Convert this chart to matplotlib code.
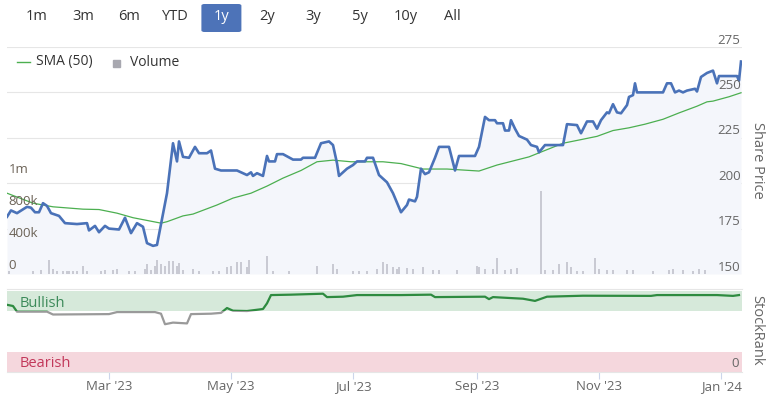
import numpy as np
import pandas as pd
import matplotlib
matplotlib.use('Agg')
import matplotlib.pyplot as plt
from matplotlib.patches import Rectangle, FancyBboxPatch
from matplotlib.lines import Line2D
from matplotlib.transforms import blended_transform_factory

plt.rcParams['font.family'] = ['Open Sans', 'DejaVu Sans']

# --- данные ---
price_dates = [
    "2023-01-09", "2023-01-11", "2023-01-14", "2023-01-19", "2023-01-21", "2023-01-23", "2023-01-25",
    "2023-01-27", "2023-01-29", "2023-01-31", "2023-02-04", "2023-02-07", "2023-02-13", "2023-02-18",
    "2023-02-19", "2023-02-22", "2023-02-24", "2023-02-27", "2023-03-01", "2023-03-06", "2023-03-09",
    "2023-03-12", "2023-03-15", "2023-03-18", "2023-03-20", "2023-03-23", "2023-03-25", "2023-03-30",
    "2023-04-02", "2023-04-04", "2023-04-05", "2023-04-07", "2023-04-10", "2023-04-13", "2023-04-15",
    "2023-04-19", "2023-04-21", "2023-04-23", "2023-04-26", "2023-05-04", "2023-05-09", "2023-05-11",
    "2023-05-12", "2023-05-14", "2023-05-17", "2023-05-19", "2023-05-20", "2023-05-23", "2023-05-24",
    "2023-05-27", "2023-06-01", "2023-06-05", "2023-06-06", "2023-06-12", "2023-06-15", "2023-06-19",
    "2023-06-21", "2023-06-23", "2023-06-24", "2023-06-28", "2023-07-01", "2023-07-03", "2023-07-07",
    "2023-07-08", "2023-07-11", "2023-07-14", "2023-07-18", "2023-07-21", "2023-07-25", "2023-07-28",
    "2023-07-29", "2023-08-01", "2023-08-02", "2023-08-04", "2023-08-06", "2023-08-08", "2023-08-11",
    "2023-08-13", "2023-08-18", "2023-08-21", "2023-08-23", "2023-08-31", "2023-09-02", "2023-09-05",
    "2023-09-07", "2023-09-10", "2023-09-11", "2023-09-14", "2023-09-15", "2023-09-17", "2023-09-18",
    "2023-09-20", "2023-09-22", "2023-09-26", "2023-09-28", "2023-10-01", "2023-10-02", "2023-10-05",
    "2023-10-14", "2023-10-16", "2023-10-21", "2023-10-23", "2023-10-26", "2023-10-29", "2023-10-31",
    "2023-11-02", "2023-11-05", "2023-11-06", "2023-11-08", "2023-11-10", "2023-11-12", "2023-11-15",
    "2023-11-16", "2023-11-18", "2023-11-19", "2023-11-20", "2023-12-03", "2023-12-05", "2023-12-07",
    "2023-12-09", "2023-12-11", "2023-12-13", "2023-12-15", "2023-12-19", "2023-12-20", "2023-12-22",
    "2023-12-25", "2023-12-28", "2023-12-30", "2023-12-31", "2024-01-09", "2024-01-10", "2024-01-11",
]
price_values = [
    181.5, 185, 183.5, 187, 186.5, 184, 184,
    189, 187.5, 183.5, 182, 178, 177.5, 178,
    174, 176.5, 173, 176.5, 175, 174.5, 181,
    172.5, 178, 176, 167, 165.5, 166, 194.5,
    222, 212, 223, 214.5, 214, 220, 216.5,
    216.5, 218, 208, 207, 207, 204.5, 206,
    204, 205.5, 204, 215, 212, 212, 216,
    216, 213, 213, 214, 214, 222, 223,
    221, 211, 204, 208, 210, 212, 212,
    214, 214, 204.5, 200.5, 194.5, 184, 188,
    191, 190, 192.5, 208, 205, 206, 214,
    220, 220, 207, 215, 215, 220, 236.5,
    234.7, 234.7, 233, 233, 229, 229, 234.7,
    230, 226, 224, 221, 220, 217, 221,
    221, 232.5, 232, 227.5, 234, 234, 230,
    234.7, 239, 238.5, 243.5, 239, 238.5, 243,
    247.5, 248.5, 255, 250, 250, 255, 255,
    250, 251, 250, 251, 252, 250.5, 258.5,
    260.7, 262, 255, 259, 259, 256.5, 267,
]

sma_dates = [
    "2023-01-09", "2023-01-22", "2023-02-01", "2023-02-16", "2023-02-24", "2023-03-05", "2023-03-13",
    "2023-03-27", "2023-03-30", "2023-04-07", "2023-04-12", "2023-04-24", "2023-05-02", "2023-05-11",
    "2023-05-19", "2023-05-27", "2023-06-05", "2023-06-13", "2023-06-21", "2023-06-30", "2023-07-08",
    "2023-07-16", "2023-07-25", "2023-08-05", "2023-08-17", "2023-09-02", "2023-09-11", "2023-09-27",
    "2023-10-14", "2023-10-23", "2023-10-31", "2023-11-08", "2023-11-16", "2023-11-24", "2023-12-03",
    "2023-12-11", "2023-12-20", "2023-12-25", "2023-12-28", "2024-01-05", "2024-01-11",
]
sma_values = [
    194.5, 189, 187, 185.7, 185.5, 183.5, 181,
    178, 178.8, 182, 183, 188, 191.8, 194.5,
    198.4, 202.8, 207, 211.8, 212.7, 211.8, 211.8,
    211.8, 210.8, 207.8, 207.8, 206.7, 210, 214.5,
    222, 224, 225.8, 229, 230.5, 232.5, 235.2,
    238.7, 242.4, 244.8, 245.2, 247.6, 249.8,
]

volume_dates = [
    "2023-01-10", "2023-01-22", "2023-01-26", "2023-01-30", "2023-02-01", "2023-02-03", "2023-02-06",
    "2023-02-08", "2023-02-09", "2023-02-11", "2023-02-13", "2023-02-16", "2023-02-18", "2023-02-25",
    "2023-02-27", "2023-03-03", "2023-03-05", "2023-03-11", "2023-03-14", "2023-03-19", "2023-03-20",
    "2023-03-22", "2023-03-24", "2023-03-25", "2023-03-27", "2023-03-29", "2023-03-31", "2023-04-02",
    "2023-04-04", "2023-04-05", "2023-04-07", "2023-04-12", "2023-04-15", "2023-04-22", "2023-04-25",
    "2023-04-29", "2023-05-01", "2023-05-04", "2023-05-06", "2023-05-09", "2023-05-10", "2023-05-19",
    "2023-05-22", "2023-05-30", "2023-06-13", "2023-06-21", "2023-06-23", "2023-07-01", "2023-07-04",
    "2023-07-08", "2023-07-13", "2023-07-16", "2023-07-18", "2023-07-21", "2023-07-23", "2023-07-24",
    "2023-07-28", "2023-07-31", "2023-08-05", "2023-08-10", "2023-08-13", "2023-08-22", "2023-09-01",
    "2023-09-02", "2023-09-05", "2023-09-09", "2023-09-11", "2023-09-15", "2023-09-18", "2023-09-21",
    "2023-10-03", "2023-10-05", "2023-10-09", "2023-10-12", "2023-10-16", "2023-10-18", "2023-10-21",
    "2023-10-24", "2023-10-30", "2023-11-01", "2023-11-05", "2023-11-08", "2023-11-15", "2023-11-18",
    "2023-11-28", "2023-12-06", "2023-12-08", "2023-12-13", "2023-12-18", "2023-12-21", "2023-12-24",
]
volume_values = [  # тыс. акций
    42, 33, 50, 175, 63, 42, 38,
    38, 38, 38, 38, 104, 33, 33,
    50, 50, 63, 42, 33, 63, 125,
    50, 104, 175, 125, 104, 167, 167,
    104, 133, 50, 63, 33, 42, 42,
    83, 100, 146, 146, 83, 175, 229,
    33, 33, 104, 125, 63, 33, 33,
    33, 63, 146, 125, 83, 63, 83,
    75, 63, 83, 50, 50, 50, 104,
    83, 63, 63, 200, 50, 63, 75,
    1040, 50, 50, 125, 146, 83, 42,
    42, 196, 63, 50, 50, 50, 50,
    33, 50, 63, 50, 42, 63, 50,
]

rank_dates = [
    "2023-01-09", "2023-01-12", "2023-01-14", "2023-01-29", "2023-02-01", "2023-03-01", "2023-03-05",
    "2023-03-24", "2023-03-27", "2023-03-29", "2023-04-02", "2023-04-09", "2023-04-11", "2023-04-21",
    "2023-04-26", "2023-04-29", "2023-05-02", "2023-05-09", "2023-05-17", "2023-05-19", "2023-05-21",
    "2023-05-31", "2023-06-16", "2023-06-18", "2023-06-26", "2023-07-03", "2023-07-25", "2023-08-09",
    "2023-08-11", "2023-09-05", "2023-09-07", "2023-09-09", "2023-09-24", "2023-09-30", "2023-10-06",
    "2023-10-24", "2023-11-27", "2023-11-30", "2023-12-30", "2024-01-07", "2024-01-10",
]
rank_values = [
    83, 81.5, 74.5, 74.5, 71, 71.5, 74,
    74, 72, 59, 61, 60, 71.5, 72,
    73, 79, 75.7, 75.3, 77.8, 84.8, 95,
    95.5, 96.7, 92.5, 93, 95, 95, 95.5,
    92.5, 93, 90, 92.5, 90.5, 87.8, 93,
    94.2, 94, 95, 95, 94, 95,
]

price_ticks = [150, 175, 200, 225, 250, 275]
volume_ticks = [0, 400e3, 800e3, 1.2e6]
volume_labels = ['0', '400k', '800k', '1m']
month_ticks = ["2023-03-01", "2023-05-01", "2023-07-01", "2023-09-01", "2023-11-01", "2024-01-01"]
month_labels = ["Mar '23", "May '23", "Jul '23", "Sep '23", "Nov '23", "Jan '24"]
buttons = ['1m', '3m', '6m', 'YTD', '1y', '2y', '3y', '5y', '10y', 'All']
selected = '1y'

pd_price = pd.to_datetime(price_dates)
pd_sma = pd.to_datetime(sma_dates)
pd_vol = pd.to_datetime(volume_dates)
pd_rank = pd.to_datetime(rank_dates)
x0 = pd.Timestamp("2023-01-09")
x1 = x0 + pd.Timedelta(days=367.5)

W, H = 768, 397
def fx(px): return px / W
def fy(py): return 1 - py / H

fig = plt.figure(figsize=(7.68, 3.97), dpi=100, facecolor='white')
txt = '#666666'

# --- верхний график: цена ---
ax = fig.add_axes([fx(7), fy(274), fx(742) - fx(7), fy(47) - fy(274)])
ax.set_xlim(x0, x1)
ax.set_ylim(150, 275)
for v in price_ticks:
    ax.axhline(v, color='#e6e6e6', lw=0.8, zorder=0)
    ax.annotate(str(v), xy=(1, v), xycoords=('axes fraction', 'data'), xytext=(-1, 5),
                textcoords='offset points', ha='right', va='center', color=txt, fontsize=9.5, zorder=5)
ax.fill_between(pd_price, price_values, 150, color='#f4f6fb', zorder=1, lw=0)
ax.plot(pd_sma, sma_values, color='#4caf50', lw=0.9, zorder=2)
ax.plot(pd_price, price_values, color='#4a72b8', lw=1.9, zorder=3, solid_joinstyle='round')
ax.set_xticks([]); ax.set_yticks([])
for s in ax.spines.values():
    s.set_visible(False)

axv = ax.twinx()
axv.set_ylim(0, 227 * 12.5e3)
axv.bar(pd_vol, np.array(volume_values) * 1e3, width=1.1, color='#c9cad3', lw=0, zorder=1)
for v, lab in zip(volume_ticks, volume_labels):
    axv.annotate(lab, xy=(0, v), xycoords=('axes fraction', 'data'), xytext=(1, 6),
                 textcoords='offset points', ha='left', va='center', color='#6b6256', fontsize=9.5)
axv.set_yticks([]); axv.set_xticks([])
for s in axv.spines.values():
    s.set_visible(False)

fig.text(fx(757), fy(160), 'Share Price', rotation=270, ha='center', va='center',
         color=txt, fontsize=10.5)

# легенда
fig.add_artist(Line2D([fx(17), fx(30)], [fy(62), fy(62)], color='#4caf50', lw=1.0,
                      transform=fig.transFigure))
fig.text(fx(36), fy(62), 'SMA (50)', ha='left', va='center', color='#333333', fontsize=10)
fig.add_artist(Rectangle((fx(113), fy(67)), fx(7), fy(0) - fy(7), color='#a8a8b0',
                         transform=fig.transFigure))
fig.text(fx(130), fy(62), 'Volume', ha='left', va='center', color='#333333', fontsize=10)

# кнопки периода
for i, b in enumerate(buttons):
    cx = 37 + 46.1 * i
    col = '#333333'
    if b == selected:
        fig.add_artist(FancyBboxPatch((fx(cx - 20), fy(32)), fx(40), fy(4) - fy(32),
                                      boxstyle='round,pad=0,rounding_size=0.004',
                                      fc='#4d73b8', ec='none', transform=fig.transFigure))
        col = 'white'
    fig.text(fx(cx), fy(17), b, ha='center', va='center', color=col, fontsize=10.5)

# --- нижний график: StockRank ---
axr = fig.add_axes([fx(7), fy(372), fx(742) - fx(7), fy(289) - fy(372)])
axr.set_xlim(x0, x1)
axr.set_ylim(0, 102.5)
axr.axhspan(75, 100, color='#d6e9da', lw=0, zorder=0)
axr.axhspan(0, 25, color='#f5d7dd', lw=0, zorder=0)
trans = blended_transform_factory(axr.transAxes, axr.transData)
lg, = axr.plot(pd_rank, rank_values, color='#2e8b40', lw=1.6, zorder=3)
lg.set_clip_path(Rectangle((0, 75), 1, 50, transform=trans))
lgr, = axr.plot(pd_rank, rank_values, color='#9a9a9a', lw=1.6, zorder=3)
lgr.set_clip_path(Rectangle((0, -10), 1, 85, transform=trans))
axr.text(0.0177, 84, 'Bullish', transform=trans, ha='left', va='center', color='#3c8a5a', fontsize=10.5)
axr.text(0.0177, 10, 'Bearish', transform=trans, ha='left', va='center', color='#c2385a', fontsize=10.5)
axr.annotate('0', xy=(1, 0), xycoords=('axes fraction', 'data'), xytext=(-2, 6),
             textcoords='offset points', ha='right', va='center', color=txt, fontsize=9.5)
axr.set_yticks([])
axr.set_xticks(pd.to_datetime(month_ticks))
axr.set_xticklabels(month_labels)
axr.tick_params(axis='x', direction='out', length=5, color='#ccd6eb', labelcolor=txt,
                labelsize=9.5, pad=1)
for k, s in axr.spines.items():
    s.set_visible(k in ('top', 'bottom'))
    s.set_color('#e6e6e6')
fig.text(fx(757), fy(330), 'StockRank', rotation=270, ha='center', va='center',
         color=txt, fontsize=10.5)

fig.savefig('out.png', dpi=100, facecolor='white')
